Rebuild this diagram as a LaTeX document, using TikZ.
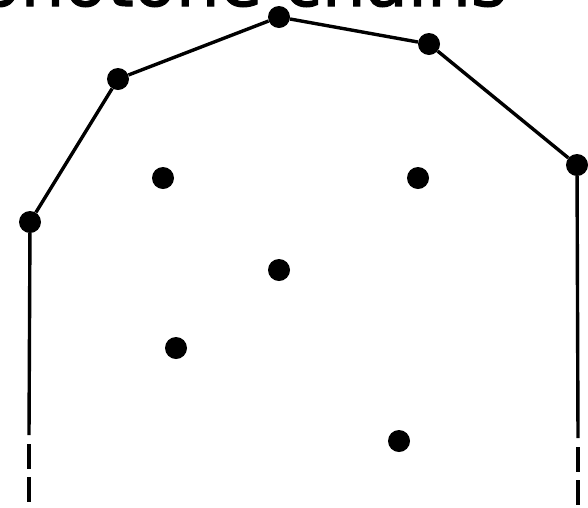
\documentclass[tikz,border=0pt]{standalone}
\usepackage{fontspec}
\setmainfont{DejaVu Sans}
\newfontfamily\titlefont{DejaVu Sans}[FakeBold=1.5]
\usepackage{tikz}

\begin{document}
\begin{tikzpicture}[
  x=1pt, y=-1pt,
  hullpt/.style={circle, fill=black, inner sep=0pt, minimum size=22pt},
  innerpt/.style={circle, fill=black, inner sep=0pt, minimum size=22pt},
  chain/.style={line width=3.4pt},
  tail/.style={line width=3.4pt, dash pattern=on 25pt off 8pt}
]
  \useasboundingbox (0,0) rectangle (588,507);
  \node[anchor=base east, inner sep=0pt, font=\titlefont\fontsize{69}{80}\selectfont] (title) at (507,6) {Monotone chains};

  \node[hullpt] (a) at (30,222) {};
  \node[hullpt] (b) at (118,79) {};
  \node[hullpt] (c) at (279,17) {};
  \node[hullpt] (d) at (429,44) {};
  \node[hullpt] (e) at (577,165) {};

  \node[innerpt] (p1) at (163,178) {};
  \node[innerpt] (p2) at (418,178) {};
  \node[innerpt] (p3) at (279,270) {};
  \node[innerpt] (p4) at (176,348) {};
  \node[innerpt] (p5) at (399,441) {};

  \coordinate (aend) at (29,435);
  \coordinate (eend) at (578,438);
  \coordinate (atail) at (29,444);
  \coordinate (afoot) at (29,507);
  \coordinate (etail) at (578,447);
  \coordinate (efoot) at (578,507);

  \draw[chain] (aend) -- (a) -- (b) -- (c) -- (d) -- (e) -- (eend);
  \draw[tail] (atail) -- (afoot);
  \draw[tail] (etail) -- (efoot);
\end{tikzpicture}
\end{document}
